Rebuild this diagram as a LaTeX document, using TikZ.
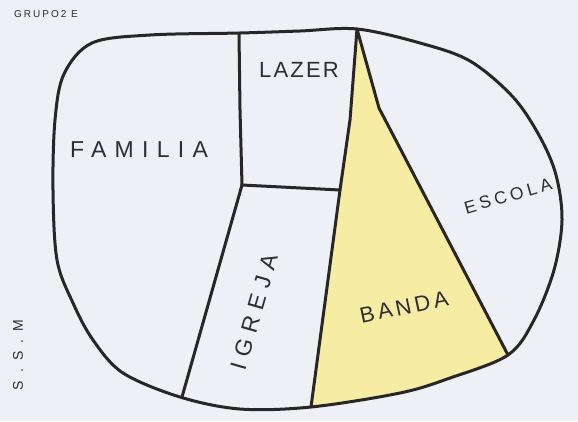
\documentclass[tikz,border=0pt]{standalone}
\usepackage{fontspec}
\setmainfont{Liberation Sans}
\definecolor{bg}{RGB}{238,240,245}
\definecolor{ink}{RGB}{40,38,38}
\definecolor{txt}{RGB}{45,45,50}
\definecolor{banda}{RGB}{246,236,164}
\begin{document}
\begin{tikzpicture}[x=1pt,y=-1pt,line join=round,line cap=round,
  edge/.style={draw=ink,line width=3pt},
  lbl/.style={text=txt,inner sep=0pt,anchor=center}]
\fill[bg] (0,0) rectangle (578,421);
\useasboundingbox (0,0) rectangle (578,421);
\path[save path=\blobpath] plot[smooth cycle,tension=0.55] coordinates {
  (92,43) (150,35) (240,33) (300,31) (357,29) (420,43) (470,61) (513,97)
  (540,137) (556,175) (562,220) (554,270) (534,320) (508,355) (450,378)
  (400,393) (311,407) (240,409) (180,397) (123,373) (93,340) (73,303)
  (57,260) (53,190) (55,120) (64,74)};
% named points
\coordinate (T) at (357,29);
\coordinate (K) at (379,108);
\coordinate (BR) at (508,355);
\coordinate (LT) at (239,33);
\coordinate (LM) at (242,185);
\coordinate (RM) at (340,190);
\coordinate (BL) at (182,397);
\coordinate (BB) at (311,407);
% yellow BANDA region
\begin{scope}
  \clip[use path=\blobpath];
  \fill[banda] (T) -- (K) -- (BR) -- (530,440) -- (300,440) -- (BB) -- (RM) -- (350,120) -- cycle;
\end{scope}
% interior lines
\draw[edge] (LT) -- (240,110) -- (LM);
\draw[edge] (LM) -- (RM);
\draw[edge] (LM) -- (BL);
\draw[edge] (T) -- (350,120) -- (RM) -- (BB);
\draw[edge] (T) -- (K) -- (BR);
% outline
\draw[edge,use path=\blobpath];
% labels
\node[lbl,font=\fontsize{10}{10}\selectfont\addfontfeature{LetterSpace=20}] (grupo) at (46,14) {GRUPO2 E};
\node[lbl,font=\fontsize{23}{23}\selectfont\addfontfeature{LetterSpace=36}] (familia) at (139,150) {FAMILIA};
\node[lbl,font=\fontsize{22}{22}\selectfont\addfontfeature{LetterSpace=10}] (lazer) at (299,70) {LAZER};
\node[lbl,font=\fontsize{23}{23}\selectfont\addfontfeature{LetterSpace=32},rotate=74] (igreja) at (254,312) {IGREJA};
\node[lbl,font=\fontsize{17.5}{17.5}\selectfont\addfontfeature{LetterSpace=22},rotate=16] (escola) at (508,196) {ESCOLA};
\node[lbl,font=\fontsize{22}{22}\selectfont\addfontfeature{LetterSpace=16},rotate=12] (bandal) at (404,307) {BANDA};
\node[lbl,font=\fontsize{14}{14}\selectfont\addfontfeature{LetterSpace=57},rotate=90] (ssm) at (18,355) {S.S.M};
\end{tikzpicture}
\end{document}
